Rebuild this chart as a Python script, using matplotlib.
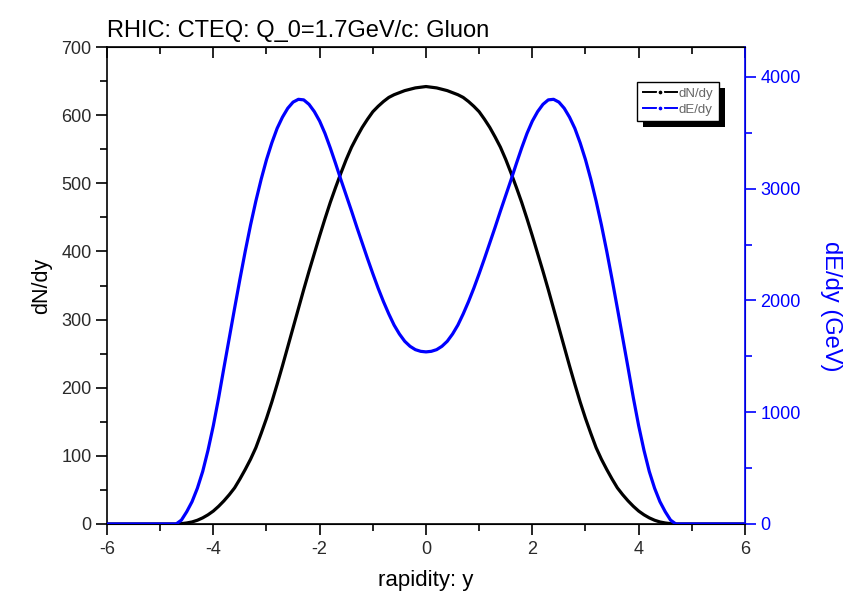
import numpy as np
import matplotlib
matplotlib.use("Agg")
import matplotlib.pyplot as plt
from matplotlib.lines import Line2D
from matplotlib.patches import Rectangle
from matplotlib.ticker import MultipleLocator

plt.rcParams['font.family'] = ['Liberation Sans', 'DejaVu Sans']
plt.rcParams['axes.unicode_minus'] = False

# rapidity grid
rap = [-6.0,
       -4.8, -4.7, -4.6, -4.5, -4.4, -4.3, -4.2, -4.1, -4.0, -3.9, -3.8, -3.7,
       -3.6, -3.5, -3.4, -3.3, -3.2, -3.1, -3.0, -2.9, -2.8, -2.7, -2.6, -2.5,
       -2.4, -2.3, -2.2, -2.1, -2.0, -1.9, -1.8, -1.7, -1.6, -1.5, -1.4, -1.3,
       -1.2, -1.1, -1.0, -0.9, -0.8, -0.7, -0.6, -0.5, -0.4, -0.3, -0.2, -0.1,
       0.0,
       0.1, 0.2, 0.3, 0.4, 0.5, 0.6, 0.7, 0.8, 0.9, 1.0, 1.1, 1.2,
       1.3, 1.4, 1.5, 1.6, 1.7, 1.8, 1.9, 2.0, 2.1, 2.2, 2.3, 2.4,
       2.5, 2.6, 2.7, 2.8, 2.9, 3.0, 3.1, 3.2, 3.3, 3.4, 3.5, 3.6,
       3.7, 3.8, 3.9, 4.0, 4.1, 4.2, 4.3, 4.4, 4.5, 4.6, 4.7, 4.8,
       6.0]

# dN/dy (left axis)
dn_dy = [0,
         0, 0, 0.5, 1.5, 3, 5.5, 9, 13.5, 19, 26, 34, 43,
         53, 66, 80, 95, 112, 133, 155, 179, 205, 232, 260, 288,
         316, 344, 371, 397, 423, 448, 472, 494, 515, 535, 553, 568,
         582, 594, 605, 613, 620, 626, 630, 633, 636, 638, 640, 641,
         642,
         641, 640, 638, 636, 633, 630, 626, 620, 613, 605, 594, 582,
         568, 553, 535, 515, 494, 472, 448, 423, 397, 371, 344, 316,
         288, 260, 232, 205, 179, 155, 133, 112, 95, 80, 66, 53,
         43, 34, 26, 19, 13.5, 9, 5.5, 3, 1.5, 0.5, 0, 0,
         0]

# dE/dy in GeV (right axis)
de_dy = [0,
         0, 0, 35, 110, 200, 320, 470, 660, 880, 1130, 1400, 1665,
         1930, 2190, 2440, 2675, 2890, 3085, 3260, 3410, 3540, 3640, 3720, 3775,
         3800, 3795, 3755, 3690, 3605, 3495, 3365, 3225, 3080, 2940, 2800, 2655,
         2515, 2375, 2240, 2110, 1990, 1880, 1780, 1700, 1635, 1590, 1560, 1545,
         1540,
         1545, 1560, 1590, 1635, 1700, 1780, 1880, 1990, 2110, 2240, 2375, 2515,
         2655, 2800, 2940, 3080, 3225, 3365, 3495, 3605, 3690, 3755, 3795, 3800,
         3775, 3720, 3640, 3540, 3410, 3260, 3085, 2890, 2675, 2440, 2190, 1930,
         1665, 1400, 1130, 880, 660, 470, 320, 200, 110, 35, 0, 0,
         0]

fig = plt.figure(figsize=(8.56, 6.13), dpi=100)
ax = fig.add_axes([0.125, 0.1452, 0.7453, 0.7781])
ax2 = ax.twinx()

ax.plot(rap, dn_dy, color='black', lw=2.3, zorder=3)
ax2.plot(rap, de_dy, color='#0000ff', lw=2.3, zorder=3)

ax.set_xlim(-6, 6)
ax.set_ylim(0, 700)
ax2.set_ylim(0, 4268)

ax.xaxis.set_major_locator(MultipleLocator(2))
ax.xaxis.set_minor_locator(MultipleLocator(1))
ax.yaxis.set_major_locator(MultipleLocator(100))
ax.yaxis.set_minor_locator(MultipleLocator(50))
ax2.yaxis.set_major_locator(MultipleLocator(1000))
ax2.yaxis.set_minor_locator(MultipleLocator(500))

ax.tick_params(axis='both', which='major', direction='out', length=8, width=1.2,
               labelsize=13, labelcolor='#2a2a2a')
ax.tick_params(axis='both', which='minor', direction='out', length=5, width=1.2)
ax.tick_params(axis='x', which='both', top=True)
ax.tick_params(axis='x', which='major', pad=4)
ax.tick_params(axis='y', which='major', pad=3)
ax2.tick_params(axis='y', which='major', direction='out', length=8, width=1.2,
                colors='#0000ff', labelsize=13, pad=3)
ax2.tick_params(axis='y', which='minor', direction='out', length=5, width=1.2,
                colors='#0000ff')

for s in ['left', 'bottom', 'top']:
    ax.spines[s].set_linewidth(1.2)
ax2.spines['right'].set_color('#0000ff')
ax2.spines['right'].set_linewidth(1.2)
ax2.spines['left'].set_visible(False)

# top ticks point inward
for t in ax.xaxis.get_major_ticks() + ax.xaxis.get_minor_ticks():
    t.tick2line.set_marker(3)

ax.set_xlabel('rapidity: y', fontsize=16, labelpad=9)
ax.set_ylabel('dN/dy', fontsize=15.5, labelpad=7)
ax2.set_ylabel('dE/dy (GeV)', fontsize=17, color='#0000ff', rotation=270,
               va='center', ha='center')
ax2.yaxis.set_label_coords(1.135, 0.457)

fig.text(0.125, 0.949, 'RHIC: CTEQ: Q_0=1.7GeV/c: Gluon', fontsize=17,
         ha='left', va='center')

handles = [Line2D([], [], color='black', lw=1.4, marker='o', ms=4,
                  mec='white', mew=1.3, mfc='black'),
           Line2D([], [], color='#0000ff', lw=1.4, marker='o', ms=4,
                  mec='white', mew=1.3, mfc='#0000ff')]
leg = ax2.legend(handles, ['dN/dy', 'dE/dy'], loc='upper left',
                 bbox_to_anchor=(0.831, 0.927), borderaxespad=0, fancybox=False,
                 edgecolor='black', framealpha=1, fontsize=9.5, numpoints=1,
                 handlelength=2.6, handletextpad=0.1, borderpad=0.45,
                 labelspacing=0.25)
leg.get_frame().set_linewidth(1.0)
for txt in leg.get_texts():
    txt.set_color('#666666')
leg.set_zorder(10)

fig.canvas.draw()
bb = leg.get_window_extent()
inv = fig.transFigure.inverted()
(x0, y0), (x1, y1) = inv.transform([[bb.x0 + 6, bb.y0 - 6], [bb.x1 + 6, bb.y1 - 6]])
shadow = Rectangle((x0, y0), x1 - x0, y1 - y0, transform=fig.transFigure,
                   facecolor='black', edgecolor='none', zorder=9, clip_on=False)
ax2.add_artist(shadow)

fig.savefig('out.png', dpi=100)
